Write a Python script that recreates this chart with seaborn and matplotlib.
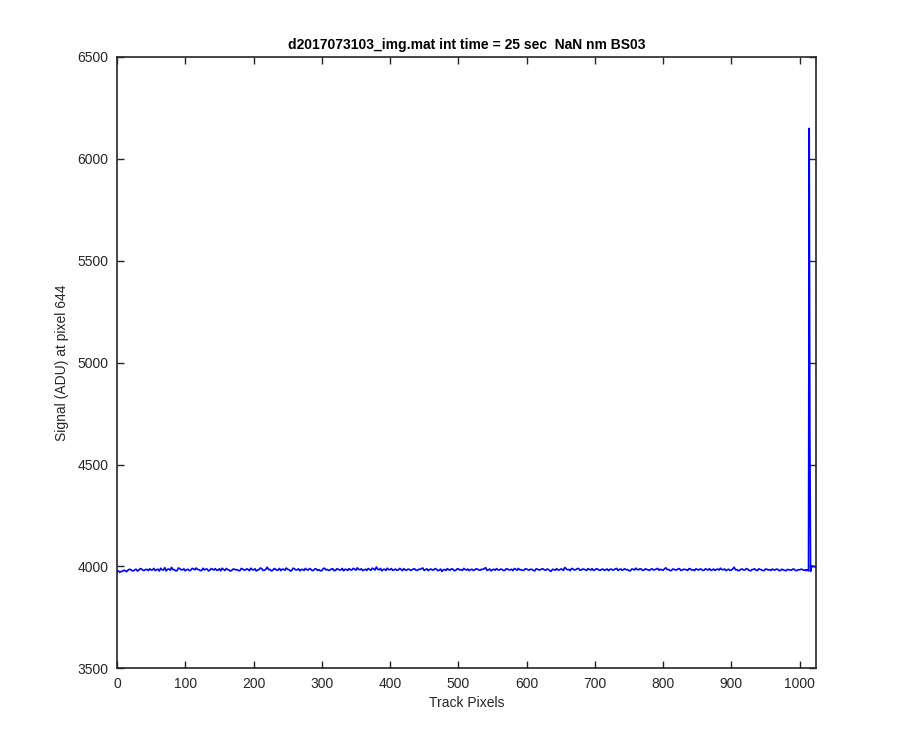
import numpy as np
import pandas as pd
import matplotlib
matplotlib.use("Agg")
import matplotlib.pyplot as plt
import seaborn as sns

sns.set_style("ticks")
plt.rcParams['font.family'] = ['Liberation Sans', 'DejaVu Sans']

# signal at track pixels 0, 4, 8, ... 1004
signal_even4 = [
    3974, 3971, 3976, 3979, 3981, 3984, 3978, 3986, 3982, 3987, 3980, 3985,
    3988, 3983, 3979, 3986, 3991, 3982, 3977, 3987, 3995, 3984, 3979, 3989,
    3983, 3978, 3986, 3981, 3988, 3992, 3984, 3979, 3983, 3987, 3981, 3986,
    3989, 3982, 3978, 3985, 3990, 3983, 3980, 3986, 3984, 3979, 3987, 3982,
    3985, 3991, 3983, 3977, 3984, 3989, 3981, 3996, 3985, 3980, 3987, 3982,
    3979, 3986, 3992, 3984, 3980, 3988, 3983, 3978, 3985, 3990, 3982, 3986,
    3981, 3987, 3984, 3979, 3991, 3985, 3982, 3988, 3980, 3986, 3983, 3978,
    3985, 3989, 3982, 3987, 3993, 3984, 3979, 3986, 3990, 3981, 3988, 3997,
    3983, 3978, 3986, 3991, 3984, 3980, 3987, 3982, 3985, 3989, 3981, 3986,
    3983, 3988, 3980, 3985, 3992, 3984, 3979, 3987, 3983, 3986, 3981, 3975,
    3985, 3989, 3982, 3986, 3980, 3988, 3984, 3990, 3982, 3979, 3986, 3983,
    3987, 3981, 3985, 3994, 3983, 3978, 3986, 3989, 3982, 3985, 3980, 3987,
    3983, 3979, 3986, 3990, 3984, 3981, 3987, 3982, 3985, 3978, 3986, 3983,
    3988, 3981, 3985, 3976, 3984, 3989, 3982, 3986, 3995, 3983, 3979, 3987,
    3984, 3990, 3982, 3986, 3980, 3985, 3989, 3983, 3987, 3981, 3986, 3984,
    3979, 3987, 3983, 3990, 3985, 3981, 3988, 3984, 3978, 3986, 3991, 3983,
    3987, 3982, 3985, 3980, 3988, 3984, 3990, 3986, 3981, 3993, 3985, 3979,
    3986, 3983, 3989, 3982, 3985, 3980, 3987, 3984, 3988, 3982, 3986, 3981,
    3985, 3989, 3983, 3980, 3987, 3991, 3984, 3979, 3986, 3982, 3996, 3984,
    3980, 3987, 3983, 3986, 3978, 3985, 3982, 3988, 3983, 3979, 3986, 3984,
    3987, 3982, 3985, 3980, 3983, 3978, 3984, 3981, 3986, 3979, 3983, 3985,
]
# signal at track pixels 2, 6, 10, ... 1006
signal_odd4 = [
    3978, 3975, 3981, 3974, 3986, 3979, 3983, 3977, 3989, 3981, 3985, 3979,
    3982, 3990, 3984, 3977, 3983, 3994, 3986, 3981, 3984, 3978, 3992, 3983,
    3988, 3984, 3979, 3990, 3983, 3985, 3980, 3991, 3986, 3978, 3989, 3982,
    3981, 3988, 3991, 3980, 3984, 3977, 3987, 3983, 3979, 3990, 3982, 3988,
    3979, 3984, 3988, 3983, 3992, 3980, 3986, 3984, 3978, 3989, 3981, 3990,
    3986, 3981, 3985, 3977, 3991, 3983, 3988, 3985, 3980, 3984, 3989, 3979,
    3988, 3980, 3978, 3989, 3983, 3980, 3987, 3979, 3988, 3982, 3990, 3986,
    3980, 3983, 3990, 3981, 3985, 3988, 3983, 3980, 3985, 3991, 3982, 3986,
    3990, 3985, 3980, 3984, 3989, 3983, 3981, 3990, 3979, 3983, 3986, 3980,
    3987, 3981, 3986, 3989, 3980, 3988, 3985, 3982, 3989, 3979, 3987, 3983,
    3980, 3983, 3988, 3979, 3987, 3982, 3980, 3985, 3987, 3984, 3980, 3988,
    3982, 3986, 3989, 3980, 3987, 3984, 3981, 3983, 3987, 3980, 3988, 3983,
    3986, 3989, 3981, 3983, 3980, 3988, 3983, 3986, 3980, 3988, 3982, 3987,
    3983, 3987, 3979, 3986, 3981, 3983, 3987, 3980, 3988, 3985, 3990, 3982,
    3988, 3981, 3987, 3983, 3989, 3982, 3980, 3988, 3982, 3986, 3980, 3987,
    3985, 3982, 3988, 3980, 3987, 3985, 3983, 3979, 3987, 3982, 3985, 3988,
    3980, 3988, 3983, 3986, 3982, 3987, 3981, 3983, 3988, 3984, 3980, 3987,
    3982, 3988, 3980, 3986, 3983, 3989, 3982, 3979, 3985, 3987, 3980, 3988,
    3982, 3980, 3987, 3985, 3982, 3984, 3987, 3983, 3980, 3988, 3983, 3979,
    3986, 3982, 3989, 3980, 3984, 3988, 3979, 3985, 3980, 3987, 3982, 3980,
    3983, 3987, 3979, 3986, 3981, 3985, 3982, 3987, 3980, 3984, 3986, 3981,
]
# last 16 pixels (1008..1023), with the spike
signal_end = [3982, 3979, 3984, 3980, 3983, 3978, 6150, 4640,
              3975, 3999, 4002, 3998, 4001, 3999, 4000, 3997]

pix = np.concatenate([np.arange(0, 1008, 4), np.arange(2, 1008, 4),
                      np.arange(1008, 1024)])
df = pd.DataFrame({"pix": pix, "sig": signal_even4 + signal_odd4 + signal_end})
df = df.sort_values("pix")

fig = plt.figure(figsize=(9, 7.5), dpi=100)
ax = fig.add_axes([0.13, 0.109, 0.7767, 0.815])
sns.lineplot(data=df, x="pix", y="sig", color=(0, 0, 1), linewidth=1.2,
             sort=False, ax=ax)

ax.set_xlim(0, 1024)
ax.set_ylim(3500, 6500)
ax.set_xticks(np.arange(0, 1001, 100))
ax.set_yticks(np.arange(3500, 6501, 500))

dark = (0.15, 0.15, 0.15)
for s in ax.spines.values():
    s.set_visible(True)
    s.set_color(dark)
    s.set_linewidth(1.2)
ax.tick_params(direction="in", length=5, width=1, colors=dark,
               labelsize=10, top=True, right=True, pad=6)

ax.set_xlabel("Track Pixels", fontsize=10, color=dark, labelpad=4)
ax.set_ylabel("Signal (ADU) at pixel 644", fontsize=10, color=dark, labelpad=6)
ax.set_title("d2017073103_img.mat int time = 25 sec  NaN nm BS03",
             fontsize=10, fontweight="bold", color="black", pad=6)

fig.savefig("out.png", dpi=100, facecolor="white")
